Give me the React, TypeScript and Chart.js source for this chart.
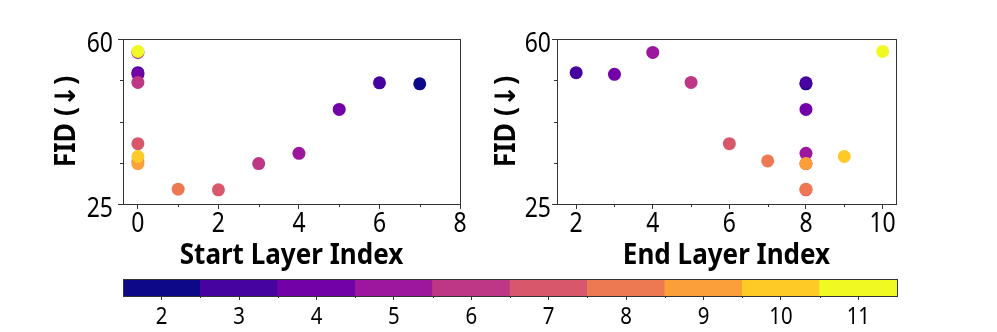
import React, { useEffect, useRef } from 'react';
import { Chart, registerables } from 'chart.js';

Chart.register(...registerables);

// ---- data ----
const startLayer = [7, 6, 0, 5, 0, 4, 0, 3, 0, 2, 0, 1, 0, 0, 0, 0];
const endLayer = [8, 8, 2, 8, 3, 8, 4, 8, 5, 8, 6, 8, 7, 8, 9, 10];
const fid = [50.5, 50.7, 52.86, 45.07, 52.5, 35.75, 57.15, 33.57, 50.79, 28.0, 37.79, 28.15, 34.14, 33.57, 35.07, 57.36];
const numLayers = [2, 3, 3, 4, 4, 5, 5, 6, 6, 7, 7, 8, 8, 9, 10, 11];

const layerTicks = [2, 3, 4, 5, 6, 7, 8, 9, 10, 11];
const plasma = ['#0d0887', '#47039f', '#7301a8', '#9c179e', '#bd3786', '#d8576b', '#ed7953', '#fb9f3a', '#fdca26', '#f0f921'];

const fidTicks = [25, 60];
const fidMinorTicks = [33.75, 42.5, 51.25];
const startTicks = [0, 2, 4, 6, 8];
const startMinorTicks = [1, 3, 5, 7];
const endTicks = [2, 4, 6, 8, 10];
const endMinorTicks = [3, 5, 7, 9];

const FAMILY = "'Noto Sans', 'DejaVu Sans', sans-serif";
const AXIS_COLOR = '#333333';

function drawText(ctx: CanvasRenderingContext2D, text: string, x: number, y: number, size: number, bold: boolean, sx: number, align: CanvasTextAlign, rot = 0) {
  ctx.save();
  ctx.translate(x, y);
  if (rot) ctx.rotate(rot);
  ctx.scale(sx, 1);
  ctx.font = `${bold ? 'bold ' : ''}${size}px ${FAMILY}`;
  ctx.textAlign = align;
  ctx.textBaseline = 'alphabetic';
  ctx.fillStyle = '#000';
  ctx.fillText(text, 0, 0);
  ctx.restore();
}

// Frame (all four spines), minor ticks, and condensed text labels
const framePlugin = {
  id: 'frame',
  afterDraw(chart: any, _args: any, opts: any) {
    const { ctx, chartArea: a } = chart;
    ctx.save();
    ctx.strokeStyle = AXIS_COLOR;
    ctx.lineWidth = 1;
    const l = Math.round(a.left), t = Math.round(a.top), r = Math.round(a.right), b = Math.round(a.bottom);
    ctx.strokeRect(l + 0.5, t + 0.5, r - l, b - t);
    const xs = chart.scales.x;
    const ys = chart.scales.y;
    (opts.xMinor || []).forEach((v: number) => {
      const px = Math.round(xs.getPixelForValue(v)) + 0.5;
      ctx.beginPath();
      ctx.moveTo(px, b);
      ctx.lineTo(px, b + opts.minorLen);
      ctx.stroke();
    });
    (opts.yMinor || []).forEach((v: number) => {
      const py = Math.round(ys.getPixelForValue(v)) + 0.5;
      ctx.beginPath();
      ctx.moveTo(l, py);
      ctx.lineTo(l - opts.minorLen, py);
      ctx.stroke();
    });
    ctx.restore();

    const xl = opts.xLabels;
    if (xl) {
      xl.values.forEach((v: number, i: number) => {
        drawText(ctx, xl.texts[i], xs.getPixelForValue(v), b + xl.dy, xl.size, false, xl.sx, 'center');
      });
    }
    const yl = opts.yLabels;
    if (yl) {
      yl.values.forEach((v: number, i: number) => {
        drawText(ctx, yl.texts[i], l - yl.dx, ys.getPixelForValue(v) + yl.dy, yl.size, false, yl.sx, 'right');
      });
    }
    const xt = opts.xTitle;
    if (xt) drawText(ctx, xt.text, (a.left + a.right) / 2, b + xt.dy, xt.size, true, xt.sx, 'center');
    const yt = opts.yTitle;
    if (yt) drawText(ctx, yt.text, l - yt.dx, (a.top + a.bottom) / 2, yt.size, true, yt.sx, 'center', -Math.PI / 2);
  },
};

function scatterConfig(xVals: number[], xMin: number, xMax: number, xTicks: number[], xMinor: number[], xTitle: string, yAxisWidth: number, padRight: number, yLabelGap: number, yTitleGap: number) {
  return {
    type: 'scatter' as const,
    data: {
      datasets: [
        {
          data: xVals.map((x, i) => ({ x, y: fid[i] })),
          pointBackgroundColor: numLayers.map((n) => plasma[layerTicks.indexOf(n)]),
          pointBorderWidth: 0,
          pointRadius: 6.5,
          pointHoverRadius: 6.5,
        },
      ],
    },
    options: {
      animation: false as const,
      responsive: false,
      maintainAspectRatio: false,
      devicePixelRatio: 1,
      layout: { padding: { top: 39, right: padRight, left: 0, bottom: 0 } },
      plugins: {
        legend: { display: false },
        tooltip: { enabled: false },
        frame: {
          xMinor,
          yMinor: fidMinorTicks,
          minorLen: 3,
          xLabels: { values: xTicks, texts: xTicks.map(String), dy: 28, size: 27, sx: 0.85 },
          yLabels: { values: fidTicks, texts: fidTicks.map(String), dx: yLabelGap, dy: 12.5, size: 27, sx: 0.85 },
          xTitle: { text: xTitle, dy: 59.5, size: 28, sx: 0.93 },
          yTitle: { text: 'FID (↓)', dx: yTitleGap, size: 28, sx: 0.95 },
        },
      },
      scales: {
        x: {
          type: 'linear' as const,
          min: xMin,
          max: xMax,
          afterBuildTicks: (s: any) => {
            s.ticks = xTicks.map((v) => ({ value: v }));
          },
          afterFit: (s: any) => {
            s.height = 74;
          },
          grid: { display: true, drawOnChartArea: false, drawTicks: true, tickLength: 5, color: AXIS_COLOR },
          border: { display: true, color: AXIS_COLOR },
          ticks: { display: false },
          title: { display: false },
        },
        y: {
          type: 'linear' as const,
          min: 25,
          max: 60,
          afterBuildTicks: (s: any) => {
            s.ticks = fidTicks.map((v) => ({ value: v }));
          },
          afterFit: (s: any) => {
            s.width = yAxisWidth;
          },
          grid: { display: true, drawOnChartArea: false, drawTicks: true, tickLength: 5, color: AXIS_COLOR },
          border: { display: true, color: AXIS_COLOR },
          ticks: { display: false },
          title: { display: false },
        },
      },
    },
    plugins: [framePlugin],
  };
}

function colorbarConfig() {
  return {
    type: 'bar' as const,
    data: {
      labels: layerTicks.map(String),
      datasets: [
        {
          data: layerTicks.map(() => 1),
          backgroundColor: plasma,
          borderWidth: 0,
          barPercentage: 1,
          categoryPercentage: 1,
        },
      ],
    },
    options: {
      animation: false as const,
      responsive: false,
      maintainAspectRatio: false,
      devicePixelRatio: 1,
      layout: { padding: { top: 9, right: 100, left: 123, bottom: 0 } },
      plugins: {
        legend: { display: false },
        tooltip: { enabled: false },
        frame: {
          xMinor: layerTicks.map((_, i) => i + 0.5).slice(0, -1),
          yMinor: [],
          minorLen: 2,
          xLabels: { values: layerTicks.map((_, i) => i), texts: layerTicks.map(String), dy: 28, size: 24, sx: 0.85 },
        },
      },
      scales: {
        x: {
          type: 'category' as const,
          afterFit: (s: any) => {
            s.height = 36;
          },
          grid: { display: true, offset: false, drawOnChartArea: false, drawTicks: true, tickLength: 4, color: AXIS_COLOR },
          border: { display: false },
          ticks: { display: false },
        },
        y: { display: false, min: 0, max: 1 },
      },
    },
    plugins: [framePlugin],
  };
}

function ChartCanvas({ config, left, top, width, height }: { config: () => any; left: number; top: number; width: number; height: number }) {
  const ref = useRef<HTMLCanvasElement | null>(null);
  useEffect(() => {
    if (!ref.current) return;
    const chart = new Chart(ref.current, config());
    return () => chart.destroy();
  }, []);
  return (
    <canvas
      ref={ref}
      width={width}
      height={height}
      style={{ position: 'absolute', left, top, width, height }}
    />
  );
}

export default function App() {
  return (
    <div style={{ position: 'fixed', left: 0, top: 0, width: 997, height: 332, background: '#fff', overflow: 'hidden' }}>
      <ChartCanvas
        config={() => scatterConfig(startLayer, -0.37, 8, startTicks, startMinorTicks, 'Start Layer Index', 123, 20, 10, 48)}
        left={0}
        top={0}
        width={480}
        height={278}
      />
      <ChartCanvas
        config={() => scatterConfig(endLayer, 1.5, 10.35, endTicks, endMinorTicks, 'End Layer Index', 77, 101, 6, 42)}
        left={480}
        top={0}
        width={517}
        height={278}
      />
      <ChartCanvas config={colorbarConfig} left={0} top={270} width={997} height={62} />
    </div>
  );
}
